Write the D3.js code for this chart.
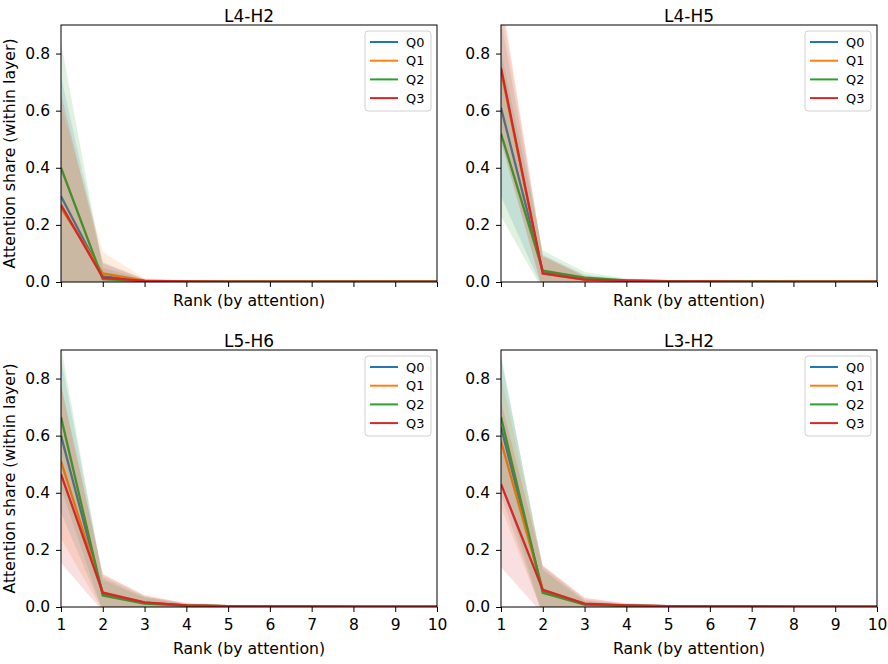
<!DOCTYPE html>
<html>
<head>
<meta charset="utf-8">
<script src="https://cdn.jsdelivr.net/npm/d3@7"></script>
<style>
  body { margin: 0; background: #fff; }
  svg { font-family: 'DejaVu Sans', sans-serif; }
</style>
</head>
<body>
<div id="chart"></div>
<script>
// ranks on the x axis
const ranks = [1, 2, 3, 4, 5, 6, 7, 8, 9, 10];
const seriesNames = ['Q0', 'Q1', 'Q2', 'Q3'];
const seriesColors = ['#1f77b4', '#ff7f0e', '#2ca02c', '#d62728'];
const panelTitles = ['L4-H2', 'L4-H5', 'L5-H6', 'L3-H2'];
const yTicks = [0, 0.2, 0.4, 0.6, 0.8];

// mean attention share per rank, one row per series (Q0..Q3)
const meanL4H2 = [
  [0.30, 0.020, 0.004, 0.002, 0.001, 0.001, 0.001, 0.001, 0.001, 0.001],
  [0.26, 0.030, 0.005, 0.002, 0.001, 0.001, 0.001, 0.001, 0.001, 0.001],
  [0.40, 0.010, 0.003, 0.001, 0.001, 0.001, 0.001, 0.001, 0.001, 0.001],
  [0.27, 0.015, 0.004, 0.002, 0.001, 0.001, 0.001, 0.001, 0.001, 0.001]
];
const sdL4H2 = [
  [0.42, 0.050, 0.006, 0.002, 0.001, 0.001, 0.001, 0.001, 0.001, 0.001],
  [0.36, 0.075, 0.008, 0.002, 0.001, 0.001, 0.001, 0.001, 0.001, 0.001],
  [0.44, 0.040, 0.005, 0.002, 0.001, 0.001, 0.001, 0.001, 0.001, 0.001],
  [0.39, 0.050, 0.006, 0.002, 0.001, 0.001, 0.001, 0.001, 0.001, 0.001]
];

const meanL4H5 = [
  [0.61, 0.035, 0.010, 0.005, 0.003, 0.002, 0.002, 0.001, 0.001, 0.001],
  [0.74, 0.030, 0.008, 0.004, 0.002, 0.002, 0.001, 0.001, 0.001, 0.001],
  [0.52, 0.040, 0.015, 0.006, 0.003, 0.002, 0.002, 0.001, 0.001, 0.001],
  [0.75, 0.030, 0.008, 0.004, 0.002, 0.002, 0.001, 0.001, 0.001, 0.001]
];
const sdL4H5 = [
  [0.31, 0.060, 0.015, 0.005, 0.003, 0.002, 0.001, 0.001, 0.001, 0.001],
  [0.24, 0.060, 0.012, 0.004, 0.002, 0.002, 0.001, 0.001, 0.001, 0.001],
  [0.29, 0.070, 0.020, 0.006, 0.003, 0.002, 0.001, 0.001, 0.001, 0.001],
  [0.26, 0.060, 0.012, 0.004, 0.002, 0.002, 0.001, 0.001, 0.001, 0.001]
];

const meanL5H6 = [
  [0.60, 0.045, 0.015, 0.005, 0.003, 0.002, 0.002, 0.001, 0.001, 0.001],
  [0.51, 0.050, 0.015, 0.006, 0.003, 0.002, 0.002, 0.001, 0.001, 0.001],
  [0.665, 0.040, 0.012, 0.005, 0.003, 0.002, 0.002, 0.001, 0.001, 0.001],
  [0.465, 0.050, 0.016, 0.006, 0.003, 0.002, 0.002, 0.001, 0.001, 0.001]
];
const sdL5H6 = [
  [0.27, 0.060, 0.022, 0.006, 0.003, 0.002, 0.001, 0.001, 0.001, 0.001],
  [0.27, 0.065, 0.025, 0.007, 0.003, 0.002, 0.001, 0.001, 0.001, 0.001],
  [0.25, 0.055, 0.020, 0.006, 0.003, 0.002, 0.001, 0.001, 0.001, 0.001],
  [0.31, 0.065, 0.025, 0.007, 0.003, 0.002, 0.001, 0.001, 0.001, 0.001]
];

const meanL3H2 = [
  [0.63, 0.055, 0.010, 0.005, 0.003, 0.002, 0.002, 0.001, 0.001, 0.001],
  [0.58, 0.060, 0.011, 0.005, 0.003, 0.002, 0.002, 0.001, 0.001, 0.001],
  [0.665, 0.050, 0.008, 0.004, 0.003, 0.002, 0.002, 0.001, 0.001, 0.001],
  [0.43, 0.060, 0.012, 0.006, 0.003, 0.002, 0.002, 0.001, 0.001, 0.001]
];
const sdL3H2 = [
  [0.24, 0.085, 0.015, 0.005, 0.003, 0.002, 0.001, 0.001, 0.001, 0.001],
  [0.23, 0.085, 0.020, 0.006, 0.003, 0.002, 0.001, 0.001, 0.001, 0.001],
  [0.22, 0.080, 0.012, 0.005, 0.003, 0.002, 0.001, 0.001, 0.001, 0.001],
  [0.29, 0.085, 0.020, 0.007, 0.003, 0.002, 0.001, 0.001, 0.001, 0.001]
];

const panelMeans = [meanL4H2, meanL4H5, meanL5H6, meanL3H2];
const panelSds = [sdL4H2, sdL4H5, sdL5H6, sdL3H2];

const width = 888;
const height = 664;

const svg = d3
  .select('#chart')
  .append('svg')
  .attr('width', width)
  .attr('height', height);

// panel boxes: left, top, width, height
const panelBoxes = [
  { x: 61, y: 25, w: 376, h: 257 },
  { x: 501, y: 25, w: 376, h: 257 },
  { x: 61, y: 350, w: 376, h: 257 },
  { x: 501, y: 350, w: 376, h: 257 }
];

panelBoxes.forEach((box, p) => {
  const g = svg.append('g').attr('transform', `translate(${box.x},${box.y})`);

  const x = d3.scaleLinear().domain([1, 10]).range([0, box.w]);
  const y = d3.scaleLinear().domain([0, 0.9]).range([box.h, 0]);

  const clipId = 'clip' + p;
  g.append('clipPath')
    .attr('id', clipId)
    .append('rect')
    .attr('width', box.w)
    .attr('height', box.h);

  const plot = g.append('g').attr('clip-path', `url(#${clipId})`);

  const means = panelMeans[p];
  const sds = panelSds[p];

  seriesNames.forEach((name, s) => {
    const rows = ranks.map((r, i) => ({
      rank: r,
      mean: means[s][i],
      lo: means[s][i] - sds[s][i],
      hi: means[s][i] + sds[s][i]
    }));

    const area = d3
      .area()
      .x((d) => x(d.rank))
      .y0((d) => y(d.lo))
      .y1((d) => y(d.hi));

    const line = d3
      .line()
      .x((d) => x(d.rank))
      .y((d) => y(d.mean));

    plot
      .append('path')
      .datum(rows)
      .attr('d', line)
      .attr('fill', 'none')
      .attr('stroke', seriesColors[s])
      .attr('stroke-width', 2.3);

    plot
      .append('path')
      .datum(rows)
      .attr('d', area)
      .attr('fill', seriesColors[s])
      .attr('fill-opacity', 0.15)
      .attr('stroke', 'none');
  });

  // axes
  const bottomRow = p >= 2;
  const xAxis = d3
    .axisBottom(x)
    .tickValues(ranks)
    .tickSize(5)
    .tickPadding(7)
    .tickFormat(bottomRow ? d3.format('d') : () => '');
  const yAxis = d3
    .axisLeft(y)
    .tickValues(yTicks)
    .tickSize(5)
    .tickPadding(6)
    .tickFormat(d3.format('.1f'));

  const gx = g.append('g').attr('transform', `translate(0,${box.h})`).call(xAxis);
  const gy = g.append('g').call(yAxis);
  [gx, gy].forEach((a) => {
    a.select('.domain').remove();
    a.attr('font-size', null).attr('font-family', null);
    a.selectAll('text').style('font-size', '15.5px').attr('fill', '#000');
    a.selectAll('line').attr('stroke', '#000');
  });

  // frame
  g.append('rect')
    .attr('width', box.w)
    .attr('height', box.h)
    .attr('fill', 'none')
    .attr('stroke', '#000')
    .attr('stroke-width', 1);

  // title
  g.append('text')
    .attr('x', box.w / 2)
    .attr('y', -3)
    .attr('text-anchor', 'middle')
    .style('font-size', '17px')
    .text(panelTitles[p]);

  // x label
  g.append('text')
    .attr('x', box.w / 2)
    .attr('y', bottomRow ? box.h + 47 : box.h + 24)
    .attr('text-anchor', 'middle')
    .style('font-size', '15.7px')
    .text('Rank (by attention)');

  // y label on left column
  if (p % 2 === 0) {
    g.append('text')
      .attr('transform', `translate(${-46},${box.h / 2}) rotate(-90)`)
      .attr('text-anchor', 'middle')
      .style('font-size', '15.7px')
      .text('Attention share (within layer)');
  }

  // legend
  const lg = g.append('g').attr('transform', `translate(${box.w - 72},6)`);
  lg.append('rect')
    .attr('width', 66)
    .attr('height', 80)
    .attr('rx', 3)
    .attr('fill', '#fff')
    .attr('fill-opacity', 0.8)
    .attr('stroke', '#d0d0d0');
  seriesNames.forEach((name, s) => {
    const ly = 11 + s * 18.7;
    lg.append('line')
      .attr('x1', 5)
      .attr('x2', 33)
      .attr('y1', ly)
      .attr('y2', ly)
      .attr('stroke', seriesColors[s])
      .attr('stroke-width', 2);
    lg.append('text')
      .attr('x', 41)
      .attr('y', ly)
      .attr('dy', '0.35em')
      .style('font-size', '12.9px')
      .text(name);
  });
});
</script>
</body>
</html>
